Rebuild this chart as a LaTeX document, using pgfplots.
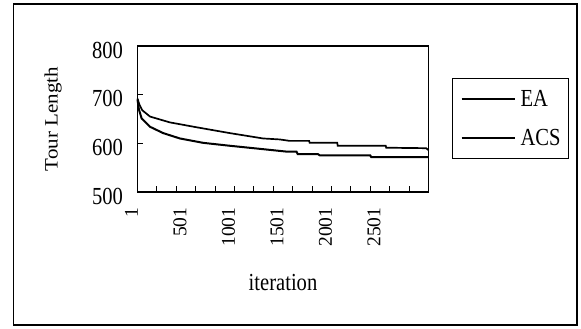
\documentclass[border=0pt]{standalone}
\usepackage{fontspec}
\setmainfont{Liberation Serif}
\newfontfamily\hfam[FakeStretch=0.84]{Liberation Serif}
\usepackage{graphicx}
\usepackage{pgfplots}
\pgfplotsset{compat=1.18}
\newcommand{\hfont}{\hfam\fontsize{24.5}{28}\selectfont}
\newcommand{\vtickfont}{\fontsize{19.5}{22}\selectfont}
\newcommand{\vlab}[1]{\scalebox{1}[0.9]{\fontsize{21}{24}\selectfont #1}}
\begin{document}
\begin{tikzpicture}[x=1pt,y=1pt]
\path[use as bounding box] (0,0) rectangle (581,329);
\draw[line width=1.4pt] (13.5,4) rectangle (577,325);
\begin{axis}[
  at={(137.5pt,137pt)}, anchor=south west,
  scale only axis, width=291pt, height=146pt,
  xmin=1, xmax=3001, ymin=500, ymax=800,
  axis line style={line width=1.5pt},
  xtick={1,501,1001,1501,2001,2501},
  minor xtick={201,401,...,2801},
  ytick={500,600,700,800},
  major tick length=0pt,
  minor tick length=6pt,
  xtick pos=bottom, ytick pos=left,
  every minor tick/.style={line width=1pt, black},
  extra y ticks={600,700},
  extra y tick labels={},
  extra y tick style={major tick length=5pt, every major tick/.style={line width=1pt,black}},
  /pgf/number format/assume math mode=true,
  xticklabel style={font=\vtickfont, xshift=-6pt, yshift=-12pt, rotate=90, anchor=east},
  yticklabel style={font=\hfont, xshift=-11pt, yshift=-4pt},
  /pgf/number format/set thousands separator={},
  xlabel={iteration},
  ylabel={\vlab{Tour Length}},
  xlabel style={at={(axis description cs:0.5,-0.623)}, anchor=center, font=\hfont},
  ylabel style={at={(axis description cs:-0.29,0.5)}, anchor=center},
  legend style={at={(1.081,0.781)}, anchor=north west, draw=black, line width=0.9pt,
    font=\hfont, inner xsep=8pt, inner ysep=1.5pt,
    nodes={inner sep=0pt, minimum height=38.5pt}},
  legend cell align=left,
  legend image code/.code={\draw[#1] (2pt,0pt) -- (55pt,0pt); \path (60pt,0pt);},
  clip=false,
]
\addplot[black, line width=2pt] coordinates {
(1,690) (15,670) (44,651) (130,634) (266,621) (438,610) (678,601) (953,595)
(1296,588) (1537,583) (1640,583) (1652,578) (1860,578) (1879,575.5) (2400,575.5) (2411,571.5) (3001,571.5)
};
\addlegendentry{EA}
\addplot[black, line width=1.7pt] coordinates {
(1,692) (20,680) (50,668) (130,655) (335,643) (610,633) (953,621) (1296,610)
(1467,608) (1537,606) (1570,605) (1770,605) (1776,601) (2060,601) (2065,595) (2560,595) (2565,591) (2977,590) (3001,586)
};
\addlegendentry{ACS}
\end{axis}
\end{tikzpicture}
\end{document}
